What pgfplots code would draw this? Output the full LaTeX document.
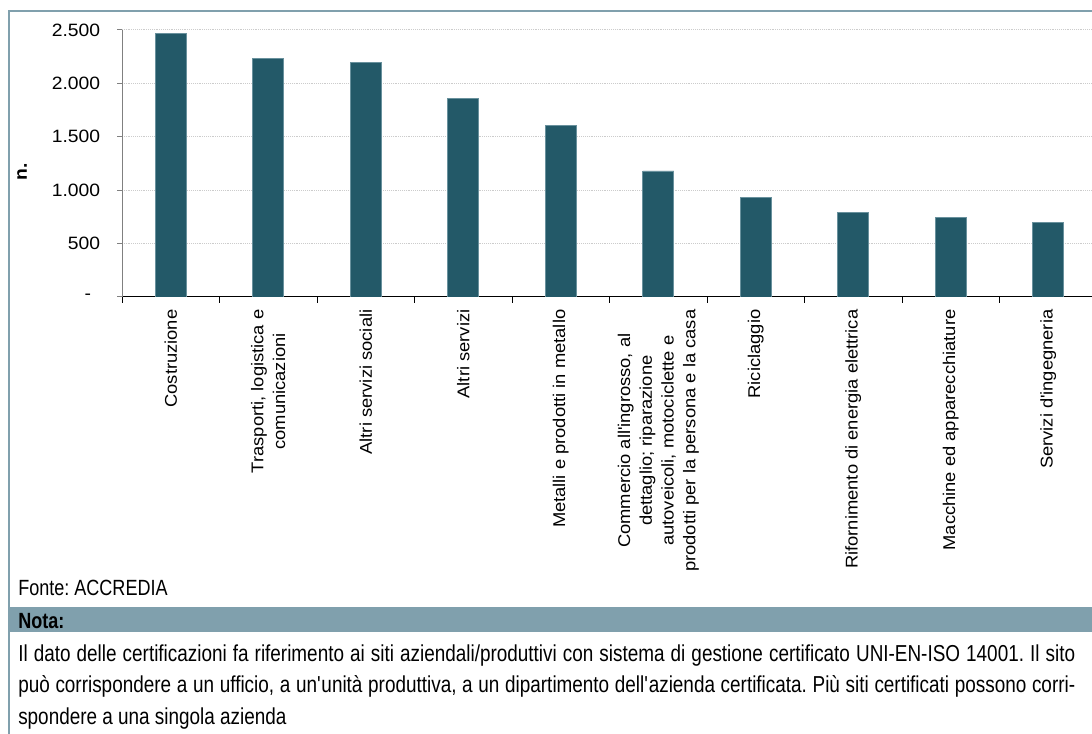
\documentclass[border=0pt]{standalone}
\usepackage{fontspec}
\setmainfont{Liberation Sans}[FakeStretch=0.82]
\newfontfamily\axf{Liberation Sans}[FakeStretch=1.08]
\usepackage{pgfplots}
\pgfplotsset{compat=1.18}
\definecolor{barc}{RGB}{35,89,104}
\definecolor{framec}{RGB}{128,160,173}
\definecolor{baredge}{RGB}{105,145,157}
\newcommand{\cf}{\fontsize{16.5}{16.3}\selectfont}
\newcommand{\lf}{\axf\fontsize{12.75}{16.3}\selectfont}
\newcommand{\tf}{\axf\fontsize{13.4}{16.3}\selectfont}
\begin{document}
\frenchspacing
\cf
\begin{tikzpicture}[x=0.75pt,y=0.75pt]
\path[use as bounding box] (0,0) rectangle (1092,734);
\clip (0,0) rectangle (1092,734);
\fill[white] (0,0) rectangle (1092,734);
% frame
\draw[framec, line width=1.9pt] (9,0) -- (9,723) -- (1100,723);
% nota band
\fill[framec] (8,102) rectangle (1092,127);
\node[anchor=base west, inner sep=0pt, font=\cf] at (18,105) {\textbf{Nota:}};
\node[anchor=base west, inner sep=0pt, font=\cf] at (18,138) {Fonte: ACCREDIA};
\begin{scope}[font=\fontsize{17.3}{20}\selectfont]
\node[anchor=base west, inner sep=0pt] at (18,72) {\makebox[792.75pt][s]{Il dato delle certificazioni fa riferimento ai siti aziendali/produttivi con sistema di gestione certificato UNI-EN-ISO 14001. Il sito}};
\node[anchor=base west, inner sep=0pt] at (18,41) {\makebox[792.75pt][s]{può corrispondere a un ufficio, a un\textquotesingle unità produttiva, a un dipartimento dell\textquotesingle azienda certificata. Più siti certificati possono corri-}};
\node[anchor=base west, inner sep=0pt] at (18,9) {spondere a una singola azienda};
\end{scope}
\begin{axis}[
  at={(91.5pt,327.75pt)}, anchor=south west,
  scale only axis, width=731.25pt, height=200.25pt,
  xmin=-0.5, xmax=9.5, ymin=0, ymax=2500,
  ybar, bar width=23.25pt,
  axis lines*=left,
  x axis line style={black, line width=0.75pt},
  y axis line style={gray, line width=0.75pt},
  ytick={0,500,1000,1500,2000,2500},
  yticklabels={{-\hspace*{0.5em}},500,{1.000},{1.500},{2.000},{2.500}},
  ymajorgrids, grid style={densely dotted, black!20, line width=0.75pt},
  tick align=outside,
  ytick style={gray, line width=0.75pt},
  major tick length=3.75pt,
  xtick={0,1,2,3,4,5,6,7,8,9},
  major x tick style={draw=none},
  minor xtick={-0.5,0.5,1.5,2.5,3.5,4.5,5.5,6.5,7.5,8.5,9.5},
  minor x tick style={black, line width=0.75pt},
  minor tick length=4.5pt,
  xticklabels={Costruzione, {Trasporti, logistica e\\comunicazioni}, Altri servizi sociali, Altri servizi, Metalli e prodotti in metallo, {Commercio all\textquotesingle ingrosso, al\\dettaglio; riparazione\\autoveicoli, motociclette e\\prodotti per la persona e la casa}, Riciclaggio, Rifornimento di energia elettrica, Macchine ed apparecchiature, Servizi d\textquotesingle ingegneria},
  xticklabel style={rotate=90, anchor=east, align=center, font=\lf},
  yticklabel style={font=\tf, xshift=-7pt},
  ylabel={\textbf{n.}},
  ylabel style={at={(axis description cs:-0.1026,0.47)}, anchor=center, font=\tf},
]
\addplot[fill=barc, draw=baredge, line width=0.4pt] coordinates {(0,2470) (1,2237) (2,2197) (3,1860) (4,1608) (5,1180) (6,936) (7,794) (8,747) (9,700)};
\end{axis}
\end{tikzpicture}
\end{document}
